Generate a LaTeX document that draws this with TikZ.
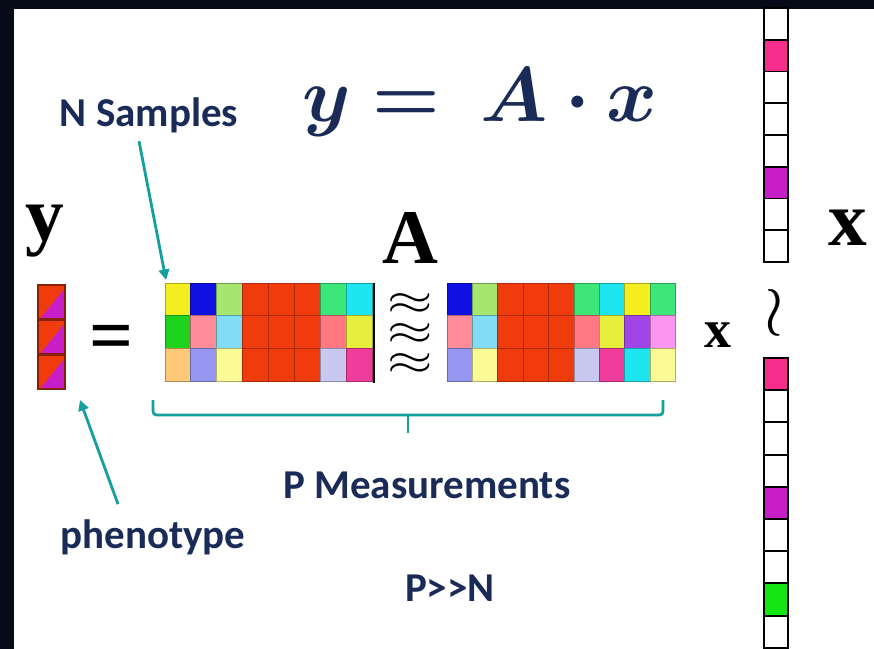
\RequirePackage{fix-cm}
\documentclass[tikz,border=0pt]{standalone}
\usepackage{fontspec}
\usepackage{bm}
\setmainfont{Liberation Serif}
\newfontfamily\calib{Carlito}
\usetikzlibrary{arrows.meta,positioning}

\definecolor{navy}{HTML}{1B2B58}
\definecolor{frame}{HTML}{060B17}
\definecolor{tealline}{HTML}{14A09C}
% cell colours
\definecolor{yel}{HTML}{F5EE1E}
\definecolor{blu}{HTML}{1010E0}
\definecolor{lgr}{HTML}{A5E66E}
\definecolor{rd}{HTML}{F03C0C}
\definecolor{grn}{HTML}{3CE678}
\definecolor{cya}{HTML}{1EE6F0}
\definecolor{gre}{HTML}{1ED21E}
\definecolor{pnk}{HTML}{FF8C96}
\definecolor{lcy}{HTML}{82DCF5}
\definecolor{sal}{HTML}{FF7882}
\definecolor{ylw}{HTML}{E6F03C}
\definecolor{lor}{HTML}{FFC878}
\definecolor{lav}{HTML}{9696F0}
\definecolor{lyl}{HTML}{FAFA96}
\definecolor{llv}{HTML}{C8C8F0}
\definecolor{mag}{HTML}{F03C9B}
\definecolor{pur}{HTML}{A046E6}
\definecolor{lpk}{HTML}{FA96F0}
\definecolor{hot}{HTML}{F52D8C}
\definecolor{vio}{HTML}{C81EC8}
\definecolor{lim}{HTML}{14E614}

\tikzset{
  lbl/.style={font=\calib\bfseries\fontsize{35}{40}\selectfont, text=navy, inner sep=0},
  big/.style={font=\bfseries\fontsize{66}{70}\selectfont, inner sep=0},
  eqtext/.style={font=\fontsize{66}{70}\selectfont, text=navy, inner sep=0, anchor=base},
  vcell/.style={draw=black, line width=1.6pt},
  pointer/.style={draw=tealline, line width=2.4pt, -{Triangle[length=9pt,width=9pt]}},
  brace/.style={draw=tealline, line width=2.4pt, rounded corners=3pt}
}

\begin{document}
\begin{tikzpicture}[x=0.03cm, y=-0.03cm]
    \useasboundingbox (0,0) rectangle (874,649);
    % dark frame and white slide
    \fill[frame] (0,0) rectangle (874,649);
    \fill[white] (14,9) rectangle (874,649);

    % equation on top
    \node[eqtext] (eq) at (480,122) {$\bm{y =\ A\cdot x}$};

    % labels
    \node[lbl] (nsamp) at (149,115) {N Samples};
    \node[lbl] (pmeas) at (427,485) {P Measurements};
    \node[lbl] (pheno) at (153,537) {phenotype};
    \node[lbl] (pgn) at (450,588) {P>{}>N};

    \node[big, anchor=base] (ylab) at (45,240) {y};
    \node[big, anchor=base] (alab) at (410,263) {A};
    \node[big, anchor=base] (xlab) at (848,245) {x};
    \node[font=\bfseries\fontsize{46}{50}\selectfont, inner sep=0, anchor=base] (xsmall) at (718,347) {x};

    % phenotype vector
    \foreach \i in {0,1,2} {
        \fill[rd] (38,{285+\i*35}) rectangle ++(27,34);
        \fill[vio] (65,{288+\i*35}) -- (65,{319+\i*35}) -- (40,{319+\i*35}) -- cycle;
        \draw[draw=rd!55!black, line width=1.2pt] (38,{285+\i*35}) rectangle ++(27,34);
    }
    \node[big, anchor=base] (eqsign) at (112,361) {=};

    % first matrix (8 columns)
    \foreach \row/\cols in {0/{yel,blu,lgr,rd,rd,rd,grn,cya},
                            1/{gre,pnk,lcy,rd,rd,rd,sal,ylw},
                            2/{lor,lav,lyl,rd,rd,rd,llv,mag}} {
        \foreach \c [count=\i from 0] in \cols {
            \draw[fill=\c, draw=\c!70!black, line width=0.8pt]
                ({165+\i*25.9},{283+\row*32.7}) rectangle ++(25.9,32.7);
        }
    }
    \draw[line width=2.2pt] (374,283) -- (374,383);

    % approximately equal, one per row
    \node[font=\fontsize{37}{25.6}\selectfont, inner sep=0, align=center, xscale=1.35]
        (approx) at (410,334) {$\approx$\\$\approx$\\$\approx$};

    % second matrix (9 columns)
    \foreach \row/\cols in {0/{blu,lgr,rd,rd,rd,grn,cya,yel,grn},
                            1/{pnk,lcy,rd,rd,rd,sal,ylw,pur,lpk},
                            2/{lav,lyl,rd,rd,rd,llv,mag,cya,lyl}} {
        \foreach \c [count=\i from 0] in \cols {
            \draw[fill=\c, draw=\c!70!black, line width=0.8pt]
                ({447+\i*25.4},{283+\row*32.7}) rectangle ++(25.4,32.7);
        }
    }

    % sparse vectors on the right
    \foreach \c [count=\i from 0] in {white,hot,white,white,white,vio,white,white} {
        \draw[vcell, fill=\c] (764,{8+\i*31.75}) rectangle ++(24,31.75);
    }
    \node[font=\fontsize{60}{62}\selectfont, inner sep=0, anchor=base] (wreath) at (774,330) {$\wr$};
    \foreach \c [count=\i from 0] in {hot,white,white,white,vio,white,white,lim,white} {
        \draw[vcell, fill=\c] (764,{358+\i*32.2}) rectangle ++(24,32.2);
    }

    % brace under the matrices
    \draw[brace] (153,400) -- (153,415) -- (663,415) -- (663,400);
    \draw[brace] (408,415) -- (408,433);

    % pointers
    \coordinate (ntip) at (166,280);
    \coordinate (ptip) at (80,400);
    \draw[pointer] ([xshift=-0.3cm,yshift=-0.25cm]nsamp.south) -- (ntip);
    \draw[pointer] ([xshift=-1.05cm,yshift=0.45cm]pheno.north) -- (ptip);
\end{tikzpicture}
\end{document}
